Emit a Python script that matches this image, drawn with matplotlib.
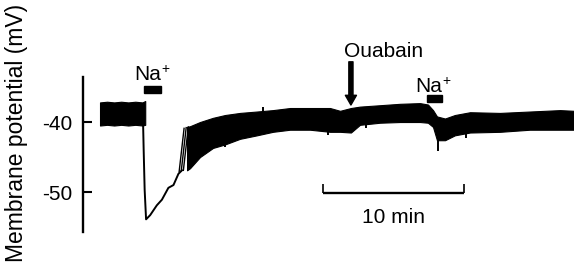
"""
Membrane potential trace: Na+ application, recovery, ouabain, second Na+.
Oscillating band is drawn as an envelope (upper/lower) read off the original trace.
"""

import numpy as np
import matplotlib
matplotlib.use("Agg")
import matplotlib.pyplot as plt
from matplotlib.patches import Rectangle

plt.rcParams["font.family"] = ["Liberation Sans", "DejaVu Sans"]
plt.rcParams["axes.unicode_minus"] = False

# --- data (time in min, potential in mV) ---
# band before first Na+ application
band1_t = [0.0, 0.5, 1.0, 1.5, 2.0, 2.5, 3.0, 3.2]
band1_hi = [-37.2, -37.1, -37.2, -37.1, -37.2, -37.1, -37.2, -37.0]
band1_lo = [-40.5, -40.4, -40.5, -40.4, -40.5, -40.4, -40.5, -40.4]

# single trace: drop and recovery after Na+
trace_t = [3.05, 3.09, 3.16, 3.26, 3.55, 4.02, 4.38, 4.84, 5.20, 5.55, 5.80]
trace_v = [-40.3, -44.0, -49.7, -53.9, -53.3, -51.9, -51.1, -49.4, -49.0, -47.4, -46.9]

# first oscillations coming back (trough -> peak)
osc_t0 = [5.60, 5.75, 5.90]
osc_v0 = [-47.1, -47.0, -46.9]
osc_t1 = [5.95, 6.10, 6.25]
osc_v1 = [-40.9, -40.8, -40.7]

# band after recovery (ouabain at ~17.8 min, second Na+ at ~23.2 min)
band2_t = [6.16, 6.37, 7.08, 8.00, 8.85, 9.91, 11.11, 12.24, 13.45, 14.86,
           16.28, 16.99, 17.76, 18.40, 19.82, 21.23, 22.65, 23.21, 23.57,
           23.85, 24.42, 25.12, 26.19, 28.31, 30.43, 32.56, 33.55]
band2_hi = [-40.7, -40.6, -40.0, -39.4, -39.0, -38.7, -38.5, -38.3, -38.0, -38.0,
            -38.0, -38.4, -38.0, -37.8, -37.6, -37.4, -37.3, -37.5, -38.3,
            -39.2, -39.5, -39.0, -38.6, -38.7, -38.5, -38.3, -38.4]
band2_lo = [-46.9, -46.6, -45.0, -43.7, -43.2, -42.4, -41.9, -41.4, -41.1, -41.1,
            -41.4, -41.4, -41.5, -40.4, -40.1, -40.0, -40.0, -40.1, -40.7,
            -42.6, -42.6, -41.9, -41.5, -41.4, -41.1, -41.1, -41.1]

# isolated spikes poking out of the band
dspike_t = [8.85, 16.14, 18.83, 23.90, 25.90]
dspike_v = [-43.5, -41.9, -40.9, -44.1, -42.3]
uspike_t = [11.51]
uspike_v = [-37.8]

# annotations
na_bars = [(3.11, 4.32, -35.36), (23.14, 24.23, -36.71)]
na_text = [(2.45, -34.0), (22.3, -35.67)]
ouabain_t = 17.76
scalebar_t = (15.76, 25.76)
scalebar_v = -50.1

fig = plt.figure(figsize=(5.74, 2.66), dpi=100)
ax = fig.add_axes([0.1452, 0.1278, 0.8548, 0.5827])
ax.set_xlim(-1.18, 33.55)
ax.set_ylim(-55.71, -33.57)

k = "black"
ax.fill_between(band1_t, band1_lo, band1_hi, color=k, lw=0.8)
ax.plot(trace_t, trace_v, color=k, lw=1.4)
for a, b, c, d in zip(osc_t0, osc_v0, osc_t1, osc_v1):
    ax.plot([a, c], [b, d], color=k, lw=1.0)
ax.fill_between(band2_t, band2_lo, band2_hi, color=k, lw=0.8)
ax.vlines(dspike_t, dspike_v, np.array(dspike_v) + 2.0, color=k, lw=1.4)
ax.vlines(uspike_t, uspike_v, np.array(uspike_v) - 2.0, color=k, lw=1.4)

# Na+ bars and labels
for (t0, t1, v) in na_bars:
    ax.add_patch(Rectangle((t0, v - 0.5), t1 - t0, 1.0, color=k, clip_on=False))
for (t, v) in na_text:
    ax.text(t, v, "Na", fontsize=15, ha="left", va="baseline", clip_on=False)
    ax.annotate("+", xy=(t, v), xytext=(27, 7), textcoords="offset pixels",
                fontsize=10, ha="left", va="baseline", annotation_clip=False)

# ouabain arrow
ax.annotate("", xy=(ouabain_t, -37.57), xytext=(ouabain_t, -31.4),
            arrowprops=dict(facecolor=k, edgecolor=k, width=3.0, headwidth=8,
                            headlength=7, shrink=0), annotation_clip=False)
ax.text(20.07, -30.7, "Ouabain", fontsize=15, ha="center", va="baseline")

# 10 min scale bar
ax.plot(scalebar_t, [scalebar_v, scalebar_v], color=k, lw=1.7, clip_on=False,
        solid_capstyle="butt")
ax.vlines(scalebar_t, scalebar_v, scalebar_v + 1.25, color=k, lw=1.2)
ax.text(np.mean(scalebar_t), -53.7, "10 min", fontsize=15, ha="center", va="center")

# axis: left spine only, inward ticks
for s in ["top", "right", "bottom"]:
    ax.spines[s].set_visible(False)
ax.spines["left"].set_linewidth(1.7)
ax.set_xticks([])
ax.set_yticks([-40, -50])
ax.set_yticklabels(["-40", "-50"])
ax.tick_params(axis="y", direction="in", length=6.5, width=1.5, pad=7.6, labelsize=15)

fig.text(16.5 / 574, 1 - 133 / 266, "Membrane potential (mV)", rotation=90,
         fontsize=16.5, ha="center", va="center")

fig.savefig("out.png", dpi=100)
